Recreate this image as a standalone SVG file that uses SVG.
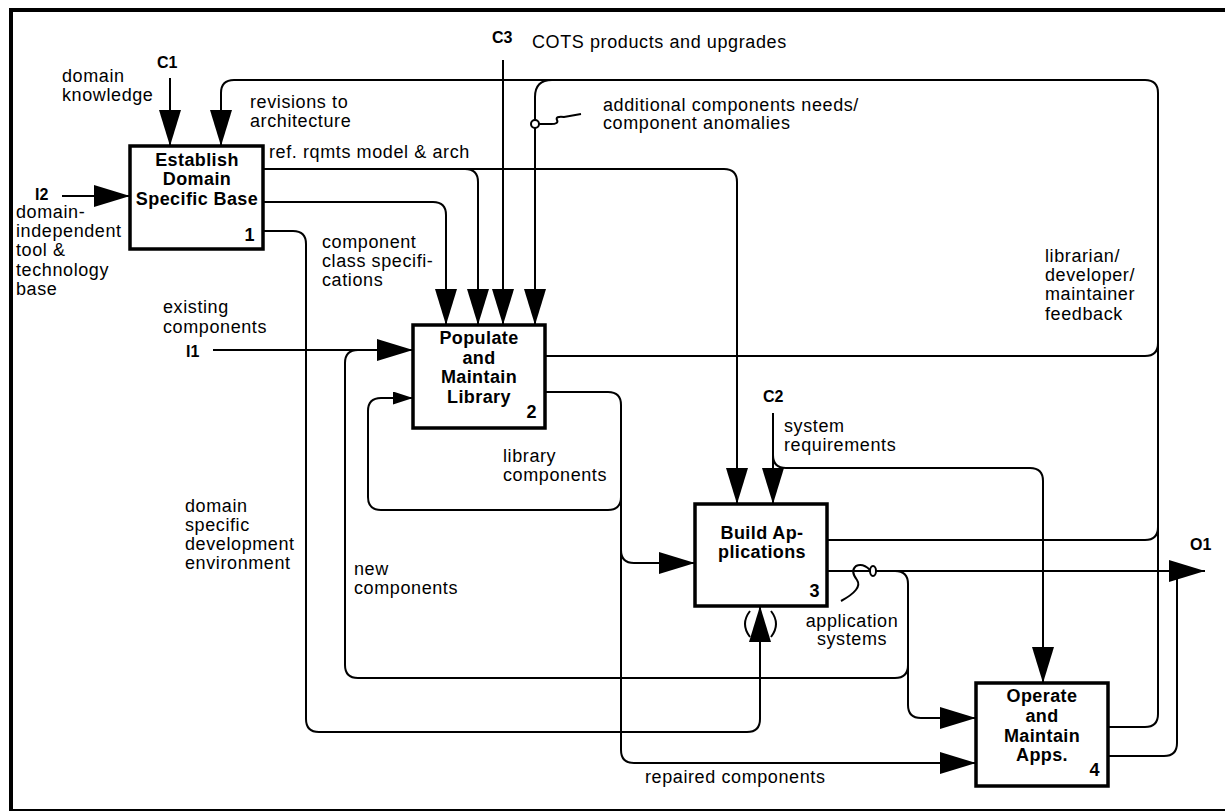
<svg xmlns="http://www.w3.org/2000/svg" width="1225" height="812" viewBox="0 0 1225 812">
  <style>
    .t { font-family: "Liberation Sans", Arial, Helvetica, sans-serif; font-size: 18px; letter-spacing: 0.6px; fill: #000; }
    .b { font-weight: bold; letter-spacing: 0.4px; }
    .id { font-family: "Liberation Sans", Arial, Helvetica, sans-serif; font-size: 16px; font-weight: bold; fill: #000; }
    .box { fill: #fff; stroke: #000; stroke-width: 3.5; }
    .ln { fill: none; stroke: #000; stroke-width: 2; }
    .frame { fill: none; stroke: #000; }
  </style>
  <defs>
    <marker id="ah" markerUnits="userSpaceOnUse" markerWidth="37" markerHeight="22" refX="36" refY="11" orient="auto">
      <path d="M0,0 L36,11 L0,22 Z" fill="#000"/>
    </marker>
    <marker id="ahs" markerUnits="userSpaceOnUse" markerWidth="21" markerHeight="13" refX="20" refY="6.5" orient="auto">
      <path d="M0,0 L20,6.5 L0,13 Z" fill="#000"/>
    </marker>
  </defs>

  <rect width="1225" height="812" fill="#fff"/>

  <!-- page frame -->
  <line class="frame" x1="9" y1="10" x2="1225" y2="10" stroke-width="4"/>
  <line class="frame" x1="11" y1="8" x2="11" y2="810" stroke-width="4"/>
  <line class="frame" x1="9" y1="810" x2="1225" y2="810" stroke-width="2" stroke="#444"/>

  <!-- connectors -->
  <g id="connectors" class="ln">
    <!-- C1 domain knowledge -->
    <path d="M170,78 V146" marker-end="url(#ah)"/>
    <!-- I2 tool & technology base -->
    <path d="M62,196 H130" marker-end="url(#ah)"/>
    <!-- feedback loop: revisions to architecture -->
    <path d="M1108,727 H1145 Q1158,727 1158,714 V93 Q1158,80 1145,80 H234 Q221,80 221,93 V146" marker-end="url(#ah)"/>
    <path d="M545,356 H1145 Q1158,356 1158,343"/>
    <path d="M827,540 H1145 Q1158,540 1158,527"/>
    <!-- additional components needs / anomalies -->
    <path d="M552,80 Q535,80 535,97 V325" marker-end="url(#ah)"/>
    <circle cx="535" cy="124" r="4" fill="#fff"/>
    <path d="M539,124 H551 Q559,124 557,120 Q555,116 564,117 L581,114"/>
    <!-- C3 COTS -->
    <path d="M503,60 V325" marker-end="url(#ah)"/>
    <!-- ref. rqmts model & arch -->
    <path d="M263,169 H724 Q737,169 737,182 V504" marker-end="url(#ah)"/>
    <path d="M465,169 Q478,169 478,182 V325" marker-end="url(#ah)"/>
    <!-- component class specifications -->
    <path d="M263,202 H433 Q446,202 446,215 V325" marker-end="url(#ah)"/>
    <!-- domain specific development environment -->
    <path d="M263,231 H293 Q306,231 306,244 V719 Q306,732 319,732 H747 Q760,732 760,719 V606" marker-end="url(#ah)"/>
    <path d="M750,611 Q740,624 750,637 M771,611 Q781,624 771,637"/>
    <!-- I1 existing components -->
    <path d="M213,350 H413" marker-end="url(#ah)"/>
    <!-- library components -->
    <path d="M545,392 H608 Q621,392 621,405 V750 Q621,763 634,763 H976" marker-end="url(#ah)"/>
    <path d="M621,550 Q621,563 634,563 H695" marker-end="url(#ah)"/>
    <path d="M621,497 Q621,510 608,510 H381 Q368,510 368,497 V411 Q368,398 381,398 H413" marker-end="url(#ahs)"/>
    <!-- C2 system requirements -->
    <path d="M773,413 V504" marker-end="url(#ah)"/>
    <path d="M773,455 Q773,468 786,468 H1030 Q1043,468 1043,481 V683" marker-end="url(#ah)"/>
    <!-- application systems / O1 -->
    <path d="M827,571 H1205" marker-end="url(#ah)"/>
    <ellipse cx="873" cy="571" rx="3" ry="5" fill="#fff"/>
    <path d="M870,570 Q863,563 856,566 Q850,571 857,580 Q863,589 841,601"/>
    <path d="M895,571 Q908,571 908,584 V705 Q908,718 921,718 H976" marker-end="url(#ah)"/>
    <!-- new components -->
    <path d="M908,665 Q908,678 895,678 H358 Q345,678 345,665 V363 Q345,350 358,350"/>
    <path d="M1108,756 H1164 Q1177,756 1177,743 V575"/>
  </g>

  <!-- activity boxes -->
  <g id="node1">
    <rect class="box" x="130" y="146" width="133" height="103"/>
    <text class="t b" x="197" y="166" text-anchor="middle">Establish</text>
    <text class="t b" x="197" y="185" text-anchor="middle">Domain</text>
    <text class="t b" x="197" y="205" text-anchor="middle">Specific Base</text>
    <text class="t b" x="255" y="241" text-anchor="end">1</text>
  </g>
  <g id="node2">
    <rect class="box" x="413" y="325" width="132" height="103"/>
    <text class="t b" x="479" y="344" text-anchor="middle">Populate</text>
    <text class="t b" x="479" y="364" text-anchor="middle">and</text>
    <text class="t b" x="479" y="383" text-anchor="middle">Maintain</text>
    <text class="t b" x="479" y="403" text-anchor="middle">Library</text>
    <text class="t b" x="537" y="418" text-anchor="end">2</text>
  </g>
  <g id="node3">
    <rect class="box" x="695" y="504" width="132" height="102"/>
    <text class="t b" x="762" y="539" text-anchor="middle">Build Ap-</text>
    <text class="t b" x="762" y="558" text-anchor="middle">plications</text>
    <text class="t b" x="820" y="597" text-anchor="end">3</text>
  </g>
  <g id="node4">
    <rect class="box" x="976" y="683" width="132" height="103"/>
    <text class="t b" x="1042" y="702" text-anchor="middle">Operate</text>
    <text class="t b" x="1042" y="722" text-anchor="middle">and</text>
    <text class="t b" x="1042" y="742" text-anchor="middle">Maintain</text>
    <text class="t b" x="1042" y="761" text-anchor="middle">Apps.</text>
    <text class="t b" x="1100" y="776" text-anchor="end">4</text>
  </g>

  <!-- boundary arrow codes -->
  <g id="codes">
    <text class="id" x="157" y="68">C1</text>
    <text class="id" x="492" y="43">C3</text>
    <text class="id" x="763" y="402">C2</text>
    <text class="id" x="35" y="200">I2</text>
    <text class="id" x="186" y="357">I1</text>
    <text class="id" x="1190" y="550">O1</text>
  </g>

  <!-- arrow labels -->
  <g id="labels" class="t">
    <text x="62" y="82">domain</text>
    <text x="62" y="101">knowledge</text>
    <text x="250" y="108">revisions to</text>
    <text x="250" y="127">architecture</text>
    <text x="269" y="158">ref. rqmts model &amp; arch</text>
    <text x="532" y="48">COTS products and upgrades</text>
    <text x="603" y="111">additional components needs/</text>
    <text x="603" y="129">component anomalies</text>
    <text x="16" y="218">domain-</text>
    <text x="16" y="237">independent</text>
    <text x="16" y="256">tool &amp;</text>
    <text x="16" y="276">technology</text>
    <text x="16" y="295">base</text>
    <text x="322" y="248">component</text>
    <text x="322" y="267">class specifi-</text>
    <text x="322" y="286">cations</text>
    <text x="163" y="313">existing</text>
    <text x="163" y="333">components</text>
    <text x="1045" y="262">librarian/</text>
    <text x="1045" y="281">developer/</text>
    <text x="1045" y="300">maintainer</text>
    <text x="1045" y="320">feedback</text>
    <text x="503" y="462">library</text>
    <text x="503" y="481">components</text>
    <text x="784" y="432">system</text>
    <text x="784" y="451">requirements</text>
    <text x="185" y="512">domain</text>
    <text x="185" y="531">specific</text>
    <text x="185" y="550">development</text>
    <text x="185" y="569">environment</text>
    <text x="354" y="575">new</text>
    <text x="354" y="594">components</text>
    <text x="852" y="627" text-anchor="middle">application</text>
    <text x="852" y="645" text-anchor="middle">systems</text>
    <text x="645" y="783">repaired components</text>
  </g>
</svg>
